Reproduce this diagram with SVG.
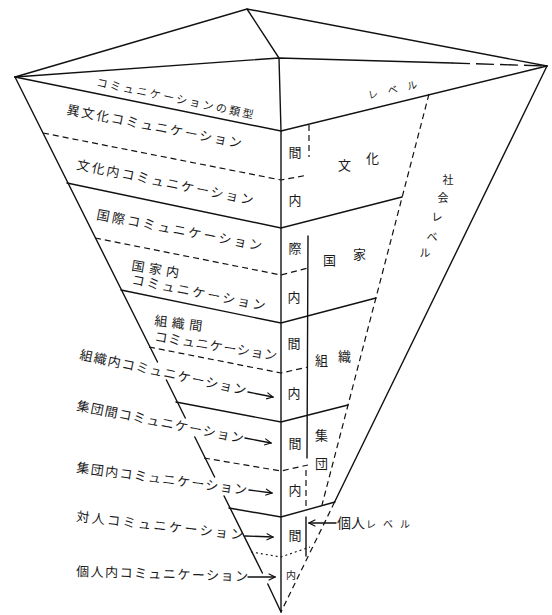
<svg xmlns="http://www.w3.org/2000/svg" width="552" height="615" viewBox="0 0 552 615">
<defs>
<marker id="ah" viewBox="0 0 10 10" refX="9" refY="5" markerWidth="8" markerHeight="8" orient="auto" markerUnits="userSpaceOnUse"><path d="M1,1 L9,5 L1,9" fill="none" stroke="#111" stroke-width="1.4"/></marker>
</defs>
<style>
.s{fill:none;stroke:#111;stroke-width:1.4;stroke-linecap:round}
.d{fill:none;stroke:#111;stroke-width:1.2;stroke-dasharray:6 4}
.dt{fill:none;stroke:#111;stroke-width:1.1;stroke-dasharray:2 3}
.dl{fill:none;stroke:#111;stroke-width:1.3;stroke-dasharray:18 6}
.t{font-family:"Noto Sans CJK JP","Noto Sans",sans-serif;fill:#1a1a1a}
.lb{font-size:13px}
.sm{font-size:11px}
.xs{font-size:10px}
.col{font-size:13px;text-anchor:middle}
</style>
<rect width="552" height="615" fill="#fff"/>
<g id="pyramid">
<path class="s" d="M15,77 L247,9 L547,66"/>
<path class="s" d="M247,9 L279,58 L281,131"/>
<path class="s" d="M15,77 L279,58 L452,63"/>
<path class="dl" d="M452,63 L547,66"/>
<path class="s" d="M15,77 L281,131 L547,66"/>
<path class="s" d="M281,131 L281,612"/>
<path class="s" d="M15,77 L157.5,362 M166.4,380 L185.3,418 M194.8,437 L214.6,477 M224.1,496 L262.4,573 M267.8,584 L281,612"/>
<path class="s" d="M547,66 L334.6,502"/>
<path class="d" d="M334.6,502 L281,612"/>
<path class="d" d="M429,94 L322,505"/>
<path class="d" d="M309,125 L309,157"/>
<path class="s" d="M308,236 L307,458"/>
<path class="d" d="M306,470 L306,507"/>
<path class="s" d="M306,517 L306,556"/>
<path class="d" d="M43,133 L281,180 L308,175"/>
<path class="s" d="M67,183 L281,228 L402,197"/>
<path class="d" d="M95,238 L281,275 L308,268"/>
<path class="s" d="M121,290 L281,323 L376,298"/>
<path class="d" d="M149,347 L281,373 L308,367"/>
<path class="s" d="M176,402 L281,422 L348,405"/>
<path class="d" d="M204,458 L281,471 L308,465"/>
<path class="s" d="M229,508 L281,517 L335,502"/>
<path class="dt" d="M251,552 L281,557 L310,547"/>
</g>
<g id="connectors">
<path class="s" d="M248,392 L273,397" marker-end="url(#ah)"/>
<path class="s" d="M245,438 L271,443" marker-end="url(#ah)"/>
<path class="s" d="M249,490 L272,493" marker-end="url(#ah)"/>
<path class="s" d="M245,536 L273,537" marker-end="url(#ah)"/>
<path class="s" d="M248,577 L275,577" marker-end="url(#ah)"/>
<path class="s" d="M336,523 L309,523" marker-end="url(#ah)"/>
</g>
<g id="label-type"><text class="t sm" transform="translate(96,86) rotate(11.8)" textLength="160" lengthAdjust="spacing">コミュニケーションの類型</text></g>
<g id="label-level-top"><text class="t xs" transform="translate(369,99) rotate(-13)" textLength="50" lengthAdjust="spacing">レベル</text></g>
<g id="label-ibunka"><text class="t lb" transform="translate(66,114) rotate(11)" textLength="178" lengthAdjust="spacing">異文化コミュニケーション</text></g>
<g id="label-bunkanai"><text class="t lb" transform="translate(76,169) rotate(11.5)" textLength="180" lengthAdjust="spacing">文化内コミュニケーション</text></g>
<g id="label-kokusai"><text class="t lb" transform="translate(96,219) rotate(10.8)" textLength="168" lengthAdjust="spacing">国際コミュニケーション</text></g>
<g id="label-kokkanai">
<text class="t lb" transform="translate(131,270) rotate(9)" textLength="48" lengthAdjust="spacing">国家内</text>
<text class="t lb" transform="translate(131,284) rotate(11.2)" textLength="136" lengthAdjust="spacing">コミュニケーション</text>
</g>
<g id="label-soshikikan">
<text class="t lb" transform="translate(154,325) rotate(7)" textLength="48" lengthAdjust="spacing">組織間</text>
<text class="t lb" transform="translate(154,341) rotate(9)" textLength="124" lengthAdjust="spacing">コミュニケーション</text>
</g>
<g id="label-soshikinai"><text class="t lb" transform="translate(79,359) rotate(12.2)" textLength="170" lengthAdjust="spacing">組織内コミュニケーション</text></g>
<g id="label-shudankan"><text class="t lb" transform="translate(76,410) rotate(11.2)" textLength="170" lengthAdjust="spacing">集団間コミュニケーション</text></g>
<g id="label-shudannai"><text class="t lb" transform="translate(76,472) rotate(7.6)" textLength="172" lengthAdjust="spacing">集団内コミュニケーション</text></g>
<g id="label-taijin"><text class="t lb" transform="translate(76,521) rotate(6.4)" textLength="168" lengthAdjust="spacing">対人コミュニケーション</text></g>
<g id="label-kojinnai"><text class="t lb" transform="translate(76,576) rotate(1.7)" textLength="172" lengthAdjust="spacing">個人内コミュニケーション</text></g>
<g id="column-labels">
<text class="t col" x="295" y="157">間</text>
<text class="t col" x="295" y="205">内</text>
<text class="t col" x="295" y="253">際</text>
<text class="t col" x="294" y="302">内</text>
<text class="t col" x="294" y="348">間</text>
<text class="t col" x="294" y="398">内</text>
<text class="t col" x="295" y="448">間</text>
<text class="t col" x="295" y="495">内</text>
<text class="t col" x="295" y="540">間</text>
<text class="t col" x="291" y="579" style="font-size:10px">内</text>
</g>
<g id="level-bunka"><text class="t lb" x="338" y="170">文</text><text class="t lb" x="366" y="163">化</text></g>
<g id="level-kokka"><text class="t lb" x="323" y="265">国</text><text class="t lb" x="353" y="259">家</text></g>
<g id="level-soshiki"><text class="t lb" x="315" y="365">組</text><text class="t lb" x="338" y="361">織</text></g>
<g id="level-shudan"><text class="t lb" x="315" y="440">集</text><text class="t lb" x="315" y="468">団</text></g>
<g id="level-shakai"><text class="t sm" text-anchor="middle"><tspan x="448" y="184">社</tspan><tspan x="443" y="202">会</tspan><tspan x="437" y="221">レ</tspan><tspan x="432" y="241">ベ</tspan><tspan x="425" y="257">ル</tspan></text></g>
<g id="level-kojin"><text class="t" x="337" y="528" style="font-size:14px">個人</text><text class="t xs" x="366" y="528" textLength="44" lengthAdjust="spacing">レベル</text></g>
</svg>
